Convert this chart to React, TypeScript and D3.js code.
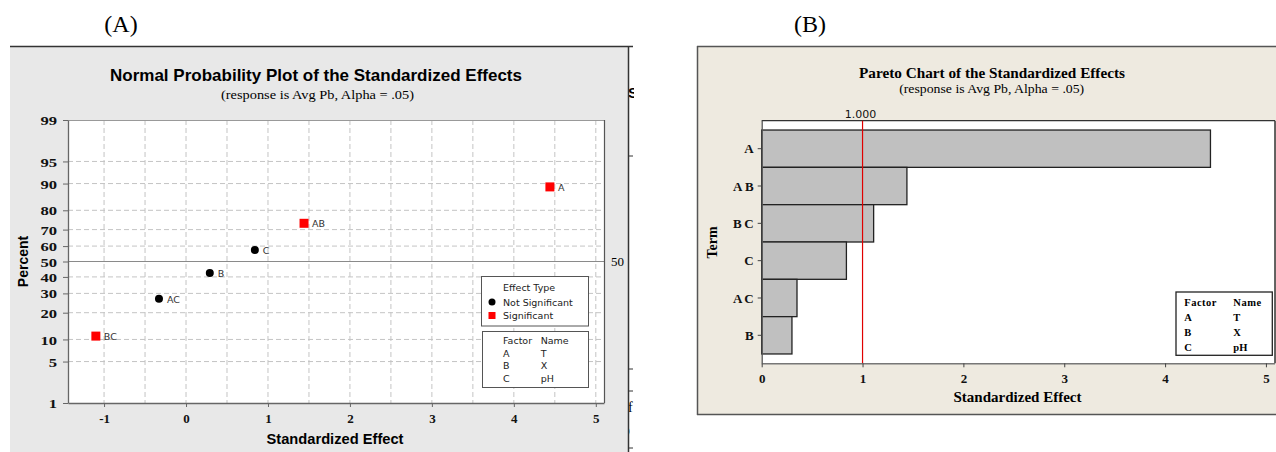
import { useEffect, useRef } from 'react'
import * as d3 from 'd3'

// effects, in pareto order
const terms = ['A', 'AB', 'BC', 'C', 'AC', 'B']
const paretoEffects = [4.45, 1.44, 1.11, 0.84, 0.35, 0.3]
const normalEffects = [4.44, 1.44, -1.1, 0.84, -0.33, 0.29]
const normalPercents = [89, 73.5, 11, 57.5, 27, 42.5]
const significant = [true, true, true, false, false, false]

const percentTicks = [1, 5, 10, 20, 30, 40, 50, 60, 70, 80, 90, 95, 99]
const effectTicksA = [-1, 0, 1, 2, 3, 4, 5]
const effectTicksB = [0, 1, 2, 3, 4, 5]
const factors = ['A', 'B', 'C']
const factorNames = ['T', 'X', 'pH']
const criticalValue = 1.0

const SERIF = 'Liberation Serif, Times New Roman, serif'
const SANS = 'Liberation Sans, Arial, sans-serif'
const DEJA = 'DejaVu Sans, sans-serif'

// inverse normal cdf (Acklam)
function probit(p: number) {
	const a = [-39.69683028665376, 220.9460984245205, -275.9285104469687, 138.357751867269, -30.66479806614716, 2.506628277459239]
	const b = [-54.47609879822406, 161.5858368580409, -155.6989798598866, 66.80131188771972, -13.28068155288572]
	const c = [-0.007784894002430293, -0.3223964580411365, -2.400758277161838, -2.549732539343734, 4.374664141464968, 2.938163982698783]
	const d = [0.007784695709041462, 0.3224671290700398, 2.445134137142996, 3.754408661907416]
	const pl = 0.02425
	if (p < pl) {
		const q = Math.sqrt(-2 * Math.log(p))
		return (((((c[0] * q + c[1]) * q + c[2]) * q + c[3]) * q + c[4]) * q + c[5]) / ((((d[0] * q + d[1]) * q + d[2]) * q + d[3]) * q + 1)
	}
	if (p > 1 - pl) {
		const q = Math.sqrt(-2 * Math.log(1 - p))
		return -(((((c[0] * q + c[1]) * q + c[2]) * q + c[3]) * q + c[4]) * q + c[5]) / ((((d[0] * q + d[1]) * q + d[2]) * q + d[3]) * q + 1)
	}
	const q = p - 0.5
	const r = q * q
	return ((((((a[0] * r + a[1]) * r + a[2]) * r + a[3]) * r + a[4]) * r + a[5]) * q) / (((((b[0] * r + b[1]) * r + b[2]) * r + b[3]) * r + b[4]) * r + 1)
}

function drawNormal(svg: any) {
	const g = svg.append('g')

	g.append('rect').attr('x', 10).attr('y', 46).attr('width', 618).attr('height', 406).style('fill', '#e8e8e8')
	g.append('line').attr('x1', 10).attr('x2', 633).attr('y1', 46.5).attr('y2', 46.5).style('stroke', '#333').style('stroke-width', 1.3)
	g.append('line').attr('x1', 628.5).attr('x2', 628.5).attr('y1', 46).attr('y2', 452).style('stroke', '#333').style('stroke-width', 1.5)

	// bits of the neighbouring figure that show at the cut edge
	const clip = svg.append('clipPath').attr('id', 'edgeClip')
	clip.append('rect').attr('x', 629).attr('y', 40).attr('width', 5).attr('height', 412)
	const edge = g.append('g').attr('clip-path', 'url(#edgeClip)')
	edge.append('text').attr('x', 628).attr('y', 98).text('S').style('font', `bold 15px ${SANS}`)
	edge.append('text').attr('x', 628).attr('y', 412).text('f').style('font', `14px ${SERIF}`)
	edge.append('text').attr('x', 626).attr('y', 434).text(')').style('font', `11px ${SERIF}`)
	;[156, 369, 391, 448].forEach((yy) => {
		g.append('line').attr('x1', 628).attr('x2', 633).attr('y1', yy).attr('y2', yy).style('stroke', '#333')
	})

	g.append('text').attr('x', 121).attr('y', 32).attr('text-anchor', 'middle').text('(A)').style('font', `24px ${SERIF}`)

	g.append('text')
		.attr('x', 316)
		.attr('y', 81)
		.attr('text-anchor', 'middle')
		.attr('textLength', 412)
		.attr('lengthAdjust', 'spacingAndGlyphs')
		.text('Normal Probability Plot of the Standardized Effects')
		.style('font', `bold 17px ${SANS}`)
	g.append('text')
		.attr('x', 317.5)
		.attr('y', 99)
		.attr('text-anchor', 'middle')
		.attr('textLength', 193)
		.attr('lengthAdjust', 'spacingAndGlyphs')
		.text('(response is Avg Pb, Alpha = .05)')
		.style('font', `12.5px ${SERIF}`)

	const x = d3.scaleLinear().domain([-1.44, 5.1]).range([68, 604])
	const y = d3
		.scaleLinear()
		.domain([probit(0.01), probit(0.99)])
		.range([403, 120])

	g.append('rect').attr('x', 68).attr('y', 120).attr('width', 536).attr('height', 283).style('fill', '#fff')

	d3.range(-1, 5.01, 0.5).forEach((v) => {
		g.append('line')
			.attr('x1', x(v))
			.attr('x2', x(v))
			.attr('y1', 120)
			.attr('y2', 403)
			.style('stroke', '#c4c4c4')
			.style('stroke-dasharray', '5,3')
	})
	percentTicks
		.filter((p) => p !== 1 && p !== 99 && p !== 50)
		.forEach((p) => {
			g.append('line')
				.attr('x1', 68)
				.attr('x2', 604)
				.attr('y1', y(probit(p / 100)))
				.attr('y2', y(probit(p / 100)))
				.style('stroke', '#c4c4c4')
				.style('stroke-dasharray', '5,3')
		})
	g.append('line').attr('x1', 68).attr('x2', 604).attr('y1', y(0)).attr('y2', y(0)).style('stroke', '#8a8a8a')
	g.append('text').attr('x', 611).attr('y', y(0) + 4).text('50').style('font', `13px ${SERIF}`)

	g.append('line').attr('x1', 68).attr('x2', 604).attr('y1', 120.5).attr('y2', 120.5).style('stroke', '#999')
	g.append('line').attr('x1', 604.5).attr('x2', 604.5).attr('y1', 120).attr('y2', 403).style('stroke', '#555').style('stroke-width', 1.2)

	g.append('g')
		.attr('transform', 'translate(68,0)')
		.call(
			d3
				.axisLeft(y)
				.tickValues(percentTicks.map((p) => probit(p / 100)))
				.tickFormat((d: any, i: number) => String(percentTicks[i]))
				.tickSize(5)
				.tickSizeOuter(0)
		)
		.call((a: any) => a.select('.domain').style('stroke', '#666').style('stroke-width', 1.3))
		.call((a: any) => a.selectAll('.tick line').style('stroke', '#666'))
		.call((a: any) =>
			a
				.selectAll('.tick text')
				.attr('x', -11)
				.attr('dy', '0.35em')
				.attr('textLength', (d: any, i: number) => String(percentTicks[i]).length * 8.3)
				.attr('lengthAdjust', 'spacingAndGlyphs')
				.style('font', `bold 13px ${SERIF}`)
				.style('fill', '#111')
		)

	g.append('g')
		.attr('transform', 'translate(0,403)')
		.call(d3.axisBottom(x).tickValues(effectTicksA).tickFormat(d3.format('d')).tickSize(4).tickSizeOuter(0))
		.call((a: any) => a.select('.domain').style('stroke', '#666').style('stroke-width', 1.3))
		.call((a: any) => a.selectAll('.tick line').style('stroke', '#666'))
		.call((a: any) =>
			a
				.selectAll('.tick text')
				.attr('y', 11)
				.attr('dy', '0.71em')
				.text((d: any) => (d < 0 ? '-' + Math.abs(d) : String(d)))
				.style('font', `bold 13px ${SERIF}`)
				.style('fill', '#111')
		)

	g.append('text')
		.attr('x', 335)
		.attr('y', 444)
		.attr('text-anchor', 'middle')
		.attr('textLength', 137)
		.attr('lengthAdjust', 'spacingAndGlyphs')
		.text('Standardized Effect')
		.style('font', `bold 14px ${SANS}`)
	g.append('text')
		.attr('transform', 'translate(28,261.5) rotate(-90)')
		.attr('text-anchor', 'middle')
		.text('Percent')
		.style('font', `bold 14px ${SANS}`)

	// points
	terms.forEach((t, i) => {
		const px = x(normalEffects[i])
		const py = y(probit(normalPercents[i] / 100))
		if (significant[i]) {
			g.append('rect').attr('x', px - 4.5).attr('y', py - 4.5).attr('width', 9).attr('height', 9).style('fill', '#ff0000')
		} else {
			g.append('circle').attr('cx', px).attr('cy', py).attr('r', 4).style('fill', '#000')
		}
		g.append('text')
			.attr('x', px + 8)
			.attr('y', py + 4)
			.text(t)
			.style('font', `9.5px ${DEJA}`)
			.style('fill', '#333')
	})

	// legends
	g.append('rect').attr('x', 481.5).attr('y', 276.5).attr('width', 107).attr('height', 49.5).style('fill', '#fff').style('stroke', '#555')
	g.append('text').attr('x', 503).attr('y', 290.5).text('Effect Type').style('font', `9.5px ${DEJA}`).style('fill', '#222')
	g.append('circle').attr('cx', 492).attr('cy', 302).attr('r', 3.5).style('fill', '#000')
	g.append('text').attr('x', 503).attr('y', 305.5).text('Not Significant').style('font', `9.5px ${DEJA}`).style('fill', '#222')
	g.append('rect').attr('x', 488.5).attr('y', 312).attr('width', 7).attr('height', 7).style('fill', '#ff0000')
	g.append('text').attr('x', 503).attr('y', 319).text('Significant').style('font', `9.5px ${DEJA}`).style('fill', '#222')

	g.append('rect').attr('x', 482.5).attr('y', 331.5).attr('width', 106).attr('height', 56).style('fill', '#fff').style('stroke', '#555')
	g.append('text').attr('x', 503).attr('y', 344).text('Factor').style('font', `9.5px ${DEJA}`).style('fill', '#222')
	g.append('text').attr('x', 540.7).attr('y', 344).text('Name').style('font', `9.5px ${DEJA}`).style('fill', '#222')
	factors.forEach((f, i) => {
		g.append('text').attr('x', 503).attr('y', 356.7 + i * 12.5).text(f).style('font', `9.5px ${DEJA}`).style('fill', '#222')
		g.append('text').attr('x', 540.7).attr('y', 356.7 + i * 12.5).text(factorNames[i]).style('font', `9.5px ${DEJA}`).style('fill', '#222')
	})
}

function drawPareto(svg: any) {
	const g = svg.append('g')

	g.append('text').attr('x', 810).attr('y', 32).attr('text-anchor', 'middle').text('(B)').style('font', `24px ${SERIF}`)

	g.append('rect').attr('x', 697).attr('y', 46).attr('width', 579).attr('height', 369).style('fill', '#eeeae0')
	g.append('line').attr('x1', 697.5).attr('x2', 697.5).attr('y1', 46).attr('y2', 415).style('stroke', '#555').style('stroke-width', 1.5)
	g.append('line').attr('x1', 697).attr('x2', 1276).attr('y1', 46.5).attr('y2', 46.5).style('stroke', '#555').style('stroke-width', 1.3)
	g.append('line').attr('x1', 697).attr('x2', 1276).attr('y1', 414.5).attr('y2', 414.5).style('stroke', '#555').style('stroke-width', 1.5)

	g.append('text')
		.attr('x', 992)
		.attr('y', 78)
		.attr('text-anchor', 'middle')
		.attr('textLength', 266)
		.attr('lengthAdjust', 'spacingAndGlyphs')
		.text('Pareto Chart of the Standardized Effects')
		.style('font', `bold 14.5px ${SERIF}`)
	g.append('text')
		.attr('x', 991.7)
		.attr('y', 92.5)
		.attr('text-anchor', 'middle')
		.attr('textLength', 185)
		.attr('lengthAdjust', 'spacingAndGlyphs')
		.text('(response is Avg Pb, Alpha = .05)')
		.style('font', `12px ${SERIF}`)

	const x = d3.scaleLinear().domain([0, 5.09]).range([761.7, 1275])
	const y = d3.scaleBand().domain(terms).range([120.7, 363.3]).paddingOuter(0.25).paddingInner(0)

	g.append('rect').attr('x', 761.7).attr('y', 120.7).attr('width', 513.3).attr('height', 242.6).style('fill', '#fff')
	g.append('line').attr('x1', 761.7).attr('x2', 1275).attr('y1', 120.7).attr('y2', 120.7).style('stroke', '#333').style('stroke-width', 1.3)
	g.append('line').attr('x1', 1275).attr('x2', 1275).attr('y1', 120.7).attr('y2', 363.3).style('stroke', '#333').style('stroke-width', 1.5)

	g.selectAll('rect.bar')
		.data(terms)
		.enter()
		.append('rect')
		.attr('class', 'bar')
		.attr('x', x(0))
		.attr('y', (d: string) => y(d))
		.attr('width', (d: string, i: number) => x(paretoEffects[i]) - x(0))
		.attr('height', y.bandwidth())
		.style('fill', '#c0c0c0')
		.style('stroke', '#222')
		.style('stroke-width', 1.3)

	g.append('line')
		.attr('x1', x(criticalValue))
		.attr('x2', x(criticalValue))
		.attr('y1', 120.7)
		.attr('y2', 363.3)
		.style('stroke', '#e00000')
		.style('stroke-width', 1.2)
	g.append('text')
		.attr('x', x(criticalValue) - 2)
		.attr('y', 118)
		.attr('text-anchor', 'middle')
		.text(d3.format('.3f')(criticalValue))
		.style('font', `11px ${DEJA}`)
		.style('fill', '#111')

	g.append('g')
		.attr('transform', 'translate(761.7,0)')
		.call(d3.axisLeft(y).tickSize(4).tickSizeOuter(0))
		.call((a: any) => a.select('.domain').attr('d', 'M0.5,120.7V363.3').style('stroke', '#555').style('stroke-width', 1.3))
		.call((a: any) => a.selectAll('.tick line').style('stroke', '#444'))
		.call((a: any) =>
			a
				.selectAll('.tick text')
				.attr('x', -8)
				.attr('dy', '0.35em')
				.attr('textLength', (d: string) => (d.length === 1 ? null : 20.7))
				.attr('lengthAdjust', 'spacing')
				.style('font', `bold 13px ${SERIF}`)
				.style('fill', '#111')
		)

	g.append('g')
		.attr('transform', 'translate(0,363.3)')
		.call(d3.axisBottom(x).tickValues(effectTicksB).tickFormat(d3.format('d')).tickSize(4).tickSizeOuter(0))
		.call((a: any) => a.select('.domain').attr('d', 'M761.7,0.5H1275').style('stroke', '#777').style('stroke-width', 1.6))
		.call((a: any) => a.selectAll('.tick line').style('stroke', '#444'))
		.call((a: any) =>
			a
				.selectAll('.tick text')
				.attr('y', 10)
				.attr('dy', '0.71em')
				.style('font', `bold 13px ${SERIF}`)
				.style('fill', '#111')
		)

	g.append('text')
		.attr('x', 1017.5)
		.attr('y', 401.5)
		.attr('text-anchor', 'middle')
		.attr('textLength', 128)
		.attr('lengthAdjust', 'spacingAndGlyphs')
		.text('Standardized Effect')
		.style('font', `bold 14.5px ${SERIF}`)
	g.append('text')
		.attr('transform', 'translate(716.5,242.5) rotate(-90)')
		.attr('text-anchor', 'middle')
		.text('Term')
		.style('font', `bold 14px ${SERIF}`)

	g.append('rect').attr('x', 1176).attr('y', 292).attr('width', 96.3).attr('height', 63.3).style('fill', '#fff').style('stroke', '#222').style('stroke-width', 1.3)
	g.append('text').attr('x', 1184.3).attr('y', 306).text('Factor').style('font', `bold 10.5px ${SERIF}`).style('letter-spacing', '0.5px')
	g.append('text').attr('x', 1233.3).attr('y', 306).text('Name').style('font', `bold 10.5px ${SERIF}`).style('letter-spacing', '0.5px')
	factors.forEach((f, i) => {
		g.append('text').attr('x', 1184.3).attr('y', 320.7 + i * 15).text(f).style('font', `bold 10.5px ${SERIF}`)
		g.append('text').attr('x', 1233.3).attr('y', 320.7 + i * 15).text(factorNames[i]).style('font', `bold 10.5px ${SERIF}`)
	})
}

export default function App() {
	const ref = useRef<SVGSVGElement>(null)

	useEffect(() => {
		const svg = d3.select(ref.current)
		svg.selectAll('*').remove()
		svg.append('rect').attr('width', 1276).attr('height', 452).style('fill', '#fff')
		drawNormal(svg)
		drawPareto(svg)
	}, [])

	return (
		<div style={{ position: 'absolute', left: 0, top: 0 }}>
			<svg ref={ref} width={1276} height={452} style={{ display: 'block' }}></svg>
		</div>
	)
}
